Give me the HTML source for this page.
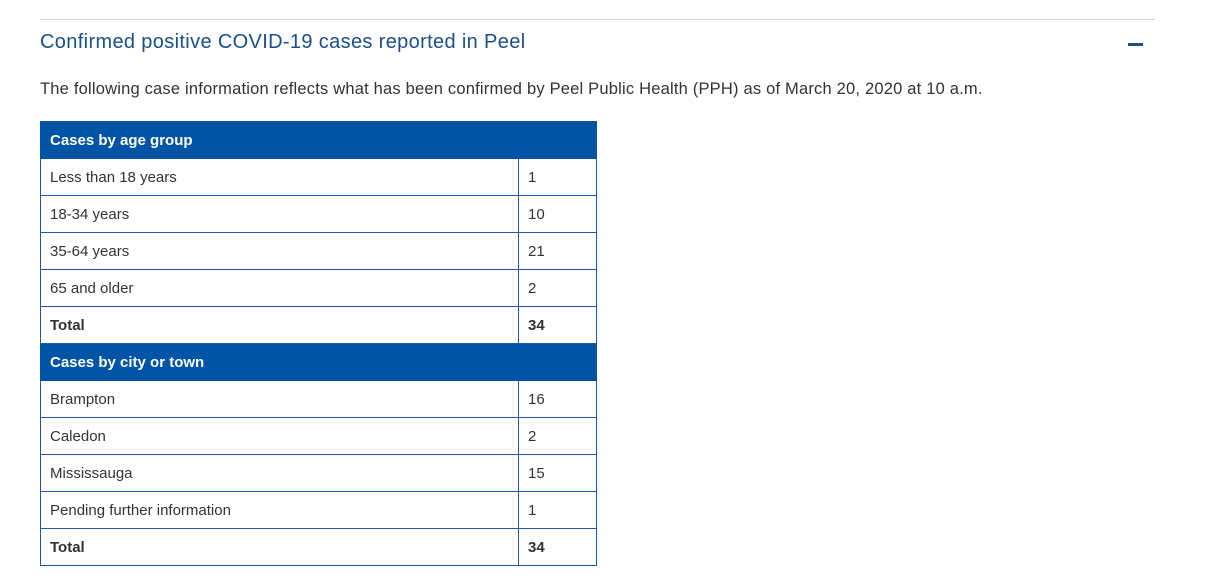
<!DOCTYPE html>
<html><head><meta charset="utf-8"><style>
body{margin:0;width:1214px;height:585px;background:#fff;font-family:"Liberation Sans",sans-serif;position:relative;overflow:hidden}
.rule{position:absolute;left:40px;top:19px;width:1115px;height:1px;background:#d6d6d6}
h2{position:absolute;left:40px;top:31px;margin:0;font-size:20px;font-weight:normal;color:#1b4f8a;letter-spacing:0.35px}
.minus{position:absolute;left:1128px;top:43px;width:15px;height:3px;background:#1b4f8a}
p{position:absolute;left:40px;top:80px;margin:0;font-size:16.5px;color:#333;letter-spacing:0.2px}
table{position:absolute;left:40px;top:121px;border-collapse:collapse;width:557px;font-size:15px;color:#333}
td{border:1px solid #1f5aa6;height:35px;padding:0 0 0 9px;box-sizing:border-box}
td.v{width:78px}
tr.h td{background:#0054a6;color:#fff;font-weight:bold;border-color:#0054a6}
tr.t td{font-weight:bold}
</style></head><body>
<div class="rule"></div>
<h2>Confirmed positive COVID-19 cases reported in Peel</h2>
<div class="minus"></div>
<p>The following case information reflects what has been confirmed by Peel Public Health (PPH) as of March 20, 2020 at 10 a.m.</p>
<table>
<tr class="h" style="height:37px"><td colspan="2">Cases by age group</td></tr>
<tr style="height:37px"><td>Less than 18 years</td><td class="v">1</td></tr>
<tr style="height:37px"><td>18-34 years</td><td class="v">10</td></tr>
<tr style="height:37px"><td>35-64 years</td><td class="v">21</td></tr>
<tr style="height:37px"><td>65 and older</td><td class="v">2</td></tr>
<tr class="t" style="height:37px"><td>Total</td><td class="v">34</td></tr>
<tr class="h" style="height:37px"><td colspan="2">Cases by city or town</td></tr>
<tr style="height:37px"><td>Brampton</td><td class="v">16</td></tr>
<tr style="height:37px"><td>Caledon</td><td class="v">2</td></tr>
<tr style="height:37px"><td>Mississauga</td><td class="v">15</td></tr>
<tr style="height:37px"><td>Pending further information</td><td class="v">1</td></tr>
<tr class="t" style="height:37px"><td>Total</td><td class="v">34</td></tr>
</table>
</body></html>
